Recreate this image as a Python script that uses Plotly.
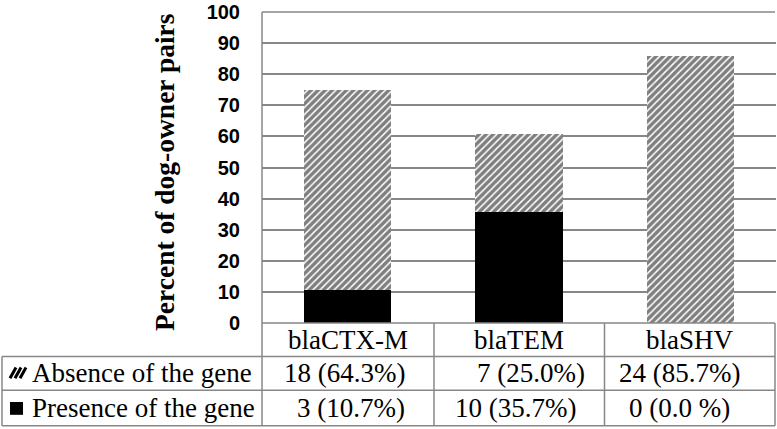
import plotly.graph_objects as go

# ---- data ----
genes = ["blaCTX-M", "blaTEM", "blaSHV"]
series_names = ["Absence of the gene", "Presence of the gene"]
absence_pct = [64.3, 25.0, 85.7]
presence_pct = [10.7, 35.7, 0.0]
absence_labels = ["18 (64.3%)", "7 (25.0%)", "24 (85.7%)"]
presence_labels = ["3 (10.7%)", "10 (35.7%)", "0 (0.0 %)"]
y_ticks = [0, 10, 20, 30, 40, 50, 60, 70, 80, 90, 100]
y_title = "Percent of dog-owner pairs"

# ---- geometry helpers (pixel -> paper) ----
W, H = 777, 429
ML, MR, MT, MB = 262, 1, 8, 106
PW = W - ML - MR
PH = H - MT - MB


def px_x(px):
    return (px - ML) / PW


def px_y(py):
    return (H - MB - py) / PH


GRID = "#878787"
SERIF = "Liberation Serif"

fig = go.Figure()
fig.add_trace(go.Bar(
    x=genes, y=presence_pct, name=series_names[1],
    marker=dict(color="black", line=dict(width=0)),
    showlegend=False,
))
fig.add_trace(go.Bar(
    x=genes, y=absence_pct, name=series_names[0],
    marker=dict(color="white", line=dict(width=0),
                pattern=dict(shape="/", fgcolor="black", bgcolor="white",
                             size=5, solidity=0.7)),
    showlegend=False,
))

shapes = []


def hline(py, x0, x1):
    shapes.append(dict(type="line", xref="paper", yref="paper",
                       x0=px_x(x0), x1=px_x(x1), y0=px_y(py), y1=px_y(py),
                       line=dict(color=GRID, width=1.5)))


def vline(px, y0, y1):
    shapes.append(dict(type="line", xref="paper", yref="paper",
                       x0=px_x(px), x1=px_x(px), y0=px_y(y0), y1=px_y(y1),
                       line=dict(color=GRID, width=1.5)))


hline(8, 262, 775)
hline(323, 262, 775)
hline(357, 2, 775)
hline(391, 2, 775)
hline(427, 2, 775)
vline(2, 357, 427)
vline(262, 8, 427)
vline(434, 323, 427)
vline(604.5, 323, 427)
vline(775, 323, 427)

# legend keys
shapes.append(dict(type="rect", xref="paper", yref="paper",
                   x0=px_x(10), x1=px_x(23), y0=px_y(416), y1=px_y(403),
                   fillcolor="black", line=dict(width=0)))
for i in range(3):
    shapes.append(dict(type="line", xref="paper", yref="paper",
                       x0=px_x(10 + 5 * i), x1=px_x(16 + 5 * i),
                       y0=px_y(379), y1=px_y(368),
                       line=dict(color="black", width=3)))

annotations = []
cell_font = dict(family=SERIF, size=27, color="black")
row_y = [px_y(374), px_y(409)]
abs_shift = [-3, 12, -11]
pre_shift = [3, -4, -11]
for i, g in enumerate(genes):
    annotations.append(dict(x=g, xref="x", y=row_y[0], yref="paper",
                            text=absence_labels[i], showarrow=False,
                            font=cell_font, xshift=abs_shift[i],
                            xanchor="center", yanchor="middle"))
    annotations.append(dict(x=g, xref="x", y=row_y[1], yref="paper",
                            text=presence_labels[i], showarrow=False,
                            font=cell_font, xshift=pre_shift[i],
                            xanchor="center", yanchor="middle"))
    annotations.append(dict(x=g, xref="x", y=px_y(340), yref="paper",
                            text=g, showarrow=False, font=cell_font,
                            xanchor="center", yanchor="middle"))
for j, name in enumerate(series_names):
    annotations.append(dict(x=px_x(30), xref="paper", y=row_y[j], yref="paper",
                            text=name, showarrow=False, font=cell_font,
                            xanchor="left", yanchor="middle"))
annotations.append(dict(x=px_x(165), xref="paper", y=px_y(170), yref="paper",
                        text=y_title, textangle=-90, showarrow=False,
                        font=dict(family=SERIF, size=27.5, color="black",
                                  weight="bold"),
                        xanchor="center", yanchor="middle"))

fig.update_layout(
    width=W, height=H,
    margin=dict(l=ML, r=MR, t=MT, b=MB, pad=0),
    paper_bgcolor="white", plot_bgcolor="white",
    barmode="stack", bargap=0.49,
    shapes=shapes, annotations=annotations,
    xaxis=dict(type="category", range=[-0.5, 2.5], showgrid=False,
               showline=False, zeroline=False, showticklabels=False,
               fixedrange=True),
    yaxis=dict(range=[0, 100], tickvals=y_ticks, showgrid=True,
               gridcolor=GRID, gridwidth=1.5, zeroline=False,
               showline=False,
               tickfont=dict(family="Liberation Sans", size=20,
                             color="black", weight="bold"),
               ticks="", ticklabelstandoff=21, ticklabeloverflow="allow",
               fixedrange=True),
)

fig.write_html("out.html",
               config={"displayModeBar": False},
               post_script="document.body.style.margin='0';"
                           "document.body.style.overflow='hidden';")
